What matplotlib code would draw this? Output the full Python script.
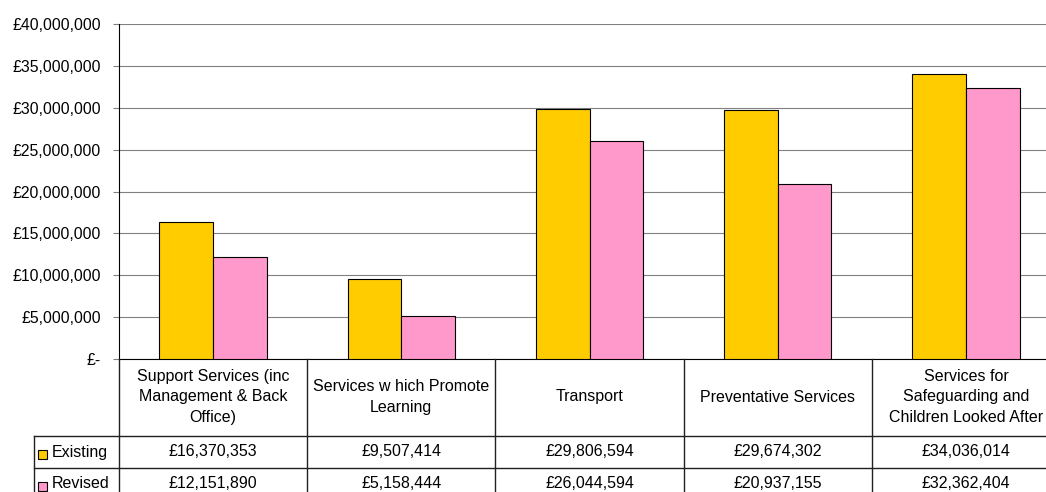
import numpy as np
import matplotlib
matplotlib.use('Agg')
import matplotlib.pyplot as plt
from matplotlib.lines import Line2D
from matplotlib.patches import Rectangle
from matplotlib.ticker import MultipleLocator, FuncFormatter
from matplotlib.transforms import blended_transform_factory

plt.rcParams['font.family'] = ['Liberation Sans', 'DejaVu Sans']
plt.rcParams['font.size'] = 11

categories = ['Support Services (inc\nManagement & Back\nOffice)',
              'Services w hich Promote\nLearning',
              'Transport',
              'Preventative Services',
              'Services for\nSafeguarding and\nChildren Looked After']
existing = [16370353, 9507414, 29806594, 29674302, 34036014]
revised = [12151890, 5158444, 26044594, 20937155, 32362404]
series_names = ['Existing', 'Revised']
colors = ['#FFCC00', '#FF99CC']

W, H = 1046, 492
fig = plt.figure(figsize=(W / 100, H / 100), dpi=100)
ax = fig.add_axes([119 / W, 1 - 359 / H, (1060 - 119) / W, (359 - 24) / H])

x = np.arange(len(categories))
w = 0.285
ax.bar(x - w / 2, existing, w, color=colors[0], edgecolor='black', linewidth=0.8, zorder=3)
ax.bar(x + w / 2, revised, w, color=colors[1], edgecolor='black', linewidth=0.8, zorder=3)

ax.set_xlim(-0.5, len(categories) - 0.5)
ax.set_ylim(0, 40e6)
ax.yaxis.set_major_locator(MultipleLocator(5e6))
ax.yaxis.set_major_formatter(FuncFormatter(lambda v, p: '£-' if v == 0 else f'£{v:,.0f}'))
ax.grid(axis='y', color='#808080', lw=0.8, zorder=0)
ax.set_axisbelow(True)
for s in ['top', 'right']:
    ax.spines[s].set_visible(False)
ax.spines['left'].set_color('black')
ax.spines['bottom'].set_color('black')
ax.tick_params(axis='y', length=4, color='#808080', pad=9, labelsize=11.3)
ax.set_xticks([])

# data table under the chart
def fy(py):
    return 1 - py / H

tr = blended_transform_factory(ax.transData, fig.transFigure)
lc = '#202020'
fs = 11.5
for b in np.arange(-0.5, len(categories), 1.0):
    fig.add_artist(Line2D([b, b], [fy(359), fy(492)], transform=tr, color=lc, lw=1, clip_on=False))
for py in [436, 468]:
    fig.add_artist(Line2D([34 / W, 1], [fy(py), fy(py)], transform=fig.transFigure,
                          color=lc, lw=1, clip_on=False))
fig.add_artist(Line2D([34 / W, 34 / W], [fy(436), fy(492)], transform=fig.transFigure,
                      color=lc, lw=1, clip_on=False))

for i, cat in enumerate(categories):
    fig.text(i, fy(397), cat, transform=tr, ha='center', va='center',
             linespacing=1.45, fontsize=fs)

for row, (name, vals, col) in enumerate(zip(series_names, [existing, revised], colors)):
    yc = 452 + 32 * row
    fig.add_artist(Rectangle((38 / W, fy(yc + 7)), 9 / W, 9 / H, transform=fig.transFigure,
                             facecolor=col, edgecolor='black', lw=0.8))
    fig.text(52 / W, fy(yc), name, ha='left', va='center', fontsize=fs)
    for i, v in enumerate(vals):
        fig.text(i, fy(yc), f'£{v:,}', transform=tr, ha='center', va='center', fontsize=fs)

fig.savefig('out.png', dpi=100)
